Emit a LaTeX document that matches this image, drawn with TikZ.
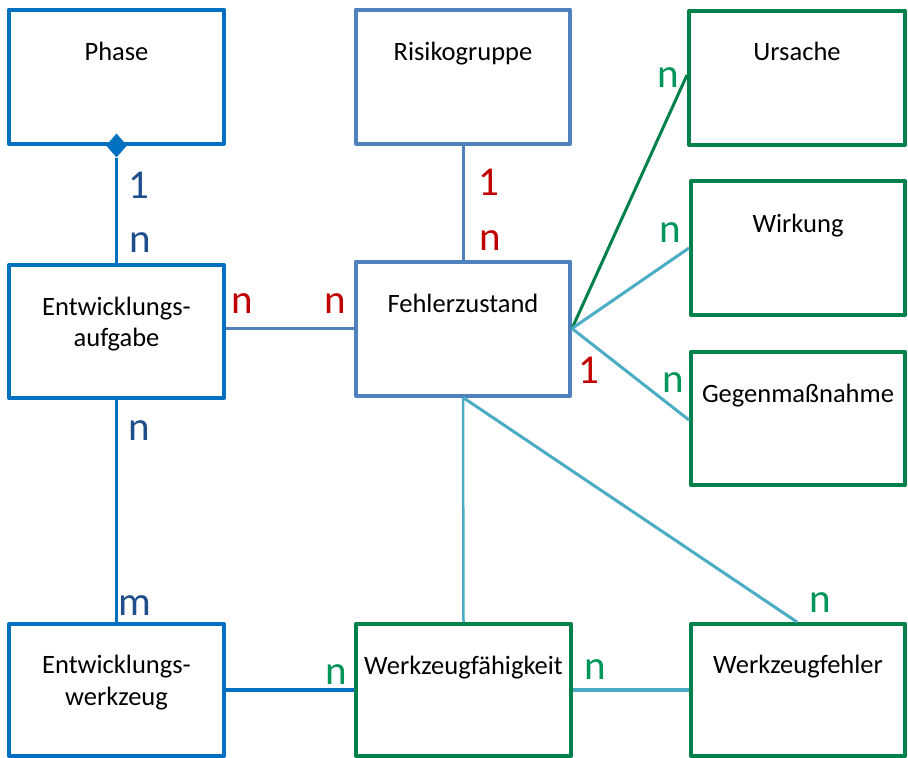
\documentclass[tikz,border=0pt]{standalone}
\usepackage{fontspec}
\setmainfont{Carlito}
\usetikzlibrary{shapes.geometric}
\definecolor{cblue}{HTML}{0070C0}
\definecolor{csteel}{HTML}{4F81BD}
\definecolor{cgreen}{HTML}{00804A}
\definecolor{ccyan}{HTML}{4BACC6}
\definecolor{cred}{HTML}{C00000}
\definecolor{cdblue}{HTML}{1F4E8C}
\definecolor{clgreen}{HTML}{00955A}
\tikzset{
  ent/.style={draw, line width=4pt, line join=round, minimum width=215pt, minimum height=134pt, inner sep=0pt},
  bluebox/.style={ent, draw=cblue},
  steelbox/.style={ent, draw=csteel},
  greenbox/.style={ent, draw=cgreen},
  etext/.style={anchor=base, inner sep=0pt, font=\fontsize{26.5}{31}\selectfont, text=black},
  card/.style={anchor=base, inner sep=0pt, font=\fontsize{41}{41}\selectfont},
  bluecon/.style={draw=cblue, line width=3pt},
  steelcon/.style={draw=csteel, line width=3pt},
  greencon/.style={draw=cgreen, line width=3pt},
  cyancon/.style={draw=ccyan, line width=3pt},
}
\begin{document}
\begin{tikzpicture}[x=1pt,y=-1pt]
\useasboundingbox (0,0) rectangle (908,758);
% entity boxes
\node[bluebox] (phase) at (116.5,76.5) {};
\node[steelbox, minimum width=214pt] (risk) at (463,76.5) {};
\node[greenbox, minimum width=216pt] (urs) at (797,77.5) {};
\node[greenbox, minimum width=214pt] (wirk) at (798,248) {};
\node[greenbox, minimum width=214pt, minimum height=133pt] (gegen) at (798,418.5) {};
\node[bluebox, minimum height=133pt] (ea) at (116.5,331.5) {};
\node[steelbox, minimum width=214pt] (fz) at (463,328.5) {};
\node[bluebox, minimum height=132pt] (ew) at (116.5,690) {};
\node[greenbox, minimum height=132pt] (wf) at (463.5,690) {};
\node[greenbox, minimum width=214pt, minimum height=132pt] (wfe) at (798,690) {};
% texts
\node[etext] (tphase) at (116.5,60) {Phase};
\node[etext] (trisk) at (463,60) {Risikogruppe};
\node[etext] (turs) at (797,60) {Ursache};
\node[etext] (twirk) at (798,232) {Wirkung};
\node[etext] (tgegen) at (798,402) {Gegenmaßnahme};
\node[etext] (tea1) at (116.5,315) {Entwicklungs-};
\node[etext] (tea2) at (116.5,346) {aufgabe};
\node[etext] (tfz) at (463,312) {Fehlerzustand};
\node[etext] (tew1) at (116.5,673) {Entwicklungs-};
\node[etext] (tew2) at (116.5,705) {werkzeug};
\node[etext] (twf) at (463.5,674) {Werkzeugfähigkeit};
\node[etext] (twfe) at (798,673) {Werkzeugfehler};
% composition diamond
\node[diamond, fill=cblue, draw=none, minimum width=21pt, minimum height=24pt, inner sep=0pt] (dia) at (phase.south) {};
% connectors
\draw[bluecon, line width=2.6pt] (dia.south) -- (ea.north);
\draw[steelcon] (risk.south) -- (fz.north);
\draw[steelcon, line width=2.2pt] (ea.east |- fz.west) -- (fz.west);
\draw[bluecon] (ea.south) -- (ew.north);
\draw[bluecon, line width=3.5pt] (ew.east) -- (wf.west);
\draw[cyancon, line width=3.5pt] (wf.east) -- (wfe.west);
\draw[cyancon, line width=2.5pt] (fz.south) -- (wf.north);
\draw[cyancon] (fz.south) -- ([xshift=-1pt]wfe.north);
\draw[greencon] (fz.east) -- ([yshift=2.5pt]urs.west);
\draw[cyancon] (fz.east) -- (wirk.west);
\draw[cyancon] (fz.east) -- ([yshift=-1.5pt]gegen.west);
% cardinalities
\node[card, text=cdblue] (c1) at (139,198) {1};
\node[card, text=cdblue] (c2) at (140,252) {n};
\node[card, text=cred] (c3) at (489,195) {1};
\node[card, text=cred] (c4) at (490,250) {n};
\node[card, text=cred] (c5) at (242,313) {n};
\node[card, text=cred] (c6) at (335,313) {n};
\node[card, text=cred] (c7) at (589,383) {1};
\node[card, text=clgreen] (c8) at (668,87) {n};
\node[card, text=clgreen] (c9) at (670,242) {n};
\node[card, text=clgreen] (c10) at (673,392) {n};
\node[card, text=cdblue] (c11) at (139,440) {n};
\node[card, text=cdblue] (c12) at (135,615) {m};
\node[card, text=clgreen] (c13) at (336,684) {n};
\node[card, text=clgreen] (c14) at (595,679) {n};
\node[card, text=clgreen] (c15) at (820,612) {n};
\end{tikzpicture}
\end{document}
